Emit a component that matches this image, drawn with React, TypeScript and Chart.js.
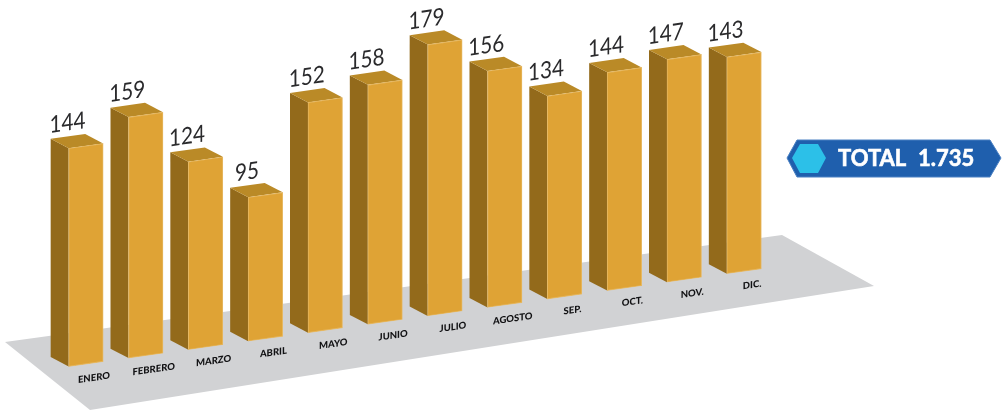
import React, { useEffect, useRef } from "react";
import { Chart, registerables } from "chart.js";

Chart.register(...registerables);

const months = ["ENERO", "FEBRERO", "MARZO", "ABRIL", "MAYO", "JUNIO", "JULIO", "AGOSTO", "SEP.", "OCT.", "NOV.", "DIC."];
const values = [144, 159, 124, 95, 152, 158, 179, 156, 134, 144, 147, 143];
const totalLabel = "TOTAL";
const totalValue = "1.735";

const FRONT = "#dfa335";
const SIDE = "#936a1b";
const TOP = "#ba8a27";
const EDGE = "#e6b862";
const SHEAR = 0.141;
const SHEAR_X0 = 69;
const DEPTH_X = -18;
const DEPTH_Y = -12;

function poly(ctx: CanvasRenderingContext2D, pts: number[][], fill: string, stroke?: string, lw = 1) {
  ctx.beginPath();
  pts.forEach((p, i) => (i ? ctx.lineTo(p[0], p[1]) : ctx.moveTo(p[0], p[1])));
  ctx.closePath();
  ctx.fillStyle = fill;
  ctx.fill();
  if (stroke) {
    ctx.strokeStyle = stroke;
    ctx.lineWidth = lw;
    ctx.stroke();
  }
}

const scene = {
  id: "scene",
  beforeDraw(chart: any) {
    const ctx = chart.ctx;
    poly(ctx, [[5, 342], [782, 235], [874, 286], [90, 410]], "#d1d2d4");
    ctx.beginPath();
    ctx.save();
    ctx.transform(1, -SHEAR, 0, 1, 0, SHEAR * SHEAR_X0);
  },
  beforeDatasetDraw(chart: any) {
    const ctx = chart.ctx;
    for (const el of chart.getDatasetMeta(0).data) {
      const l = el.x - el.width / 2;
      const r = el.x + el.width / 2;
      poly(ctx, [[l, el.y], [l + DEPTH_X, el.y + DEPTH_Y], [l + DEPTH_X, el.base + DEPTH_Y], [l, el.base]], SIDE);
      poly(ctx, [[l, el.y], [l + DEPTH_X, el.y + DEPTH_Y], [r + DEPTH_X, el.y + DEPTH_Y], [r, el.y]], TOP);
    }
  },
  afterDatasetDraw(chart: any) {
    const ctx = chart.ctx;
    ctx.font = "23.5px Lato";
    ctx.fillStyle = "#2a2a2c";
    ctx.textAlign = "center";
    ctx.textBaseline = "middle";
    chart.getDatasetMeta(0).data.forEach((el: any, i: number) => {
      ctx.save();
      ctx.translate(el.x - 18.5, el.y - 25.5);
      ctx.scale(0.88, 1);
      ctx.fillText(String(values[i]), 0, 0);
      ctx.restore();
    });
  },
  afterDraw(chart: any) {
    const ctx = chart.ctx;
    ctx.restore();
    poly(ctx, [[787, 158], [797, 140], [990, 140], [1001, 158], [990, 177], [797, 177]], "#1f5fad", "#4a80c2", 1);
    poly(ctx, [[792, 158], [800, 144], [818, 144], [826, 158], [818, 173], [800, 173]], "#2cc0e8");
    ctx.save();
    ctx.font = "bold 22px Lato";
    ctx.fillStyle = "#ffffff";
    ctx.strokeStyle = "#ffffff";
    ctx.lineWidth = 0.6;
    ctx.textAlign = "left";
    ctx.textBaseline = "middle";
    ctx.fillText(totalLabel, 838, 159);
    ctx.strokeText(totalLabel, 838, 159);
    ctx.fillText(totalValue, 918, 159);
    ctx.strokeText(totalValue, 918, 159);
    ctx.restore();
  },
};

export default function App() {
  const ref = useRef<HTMLCanvasElement>(null);
  useEffect(() => {
    const chart = new Chart(ref.current!, {
      type: "bar",
      data: {
        labels: months,
        datasets: [
          {
            data: values,
            backgroundColor: FRONT,
            borderColor: EDGE,
            borderWidth: 1,
            borderSkipped: false,
            barThickness: 34.5,
            clip: false,
          } as any,
        ],
      },
      options: {
        responsive: false,
        animation: false,
        layout: { padding: { left: 56, right: 231, top: 2.7, bottom: 0 } },
        plugins: { legend: { display: false }, tooltip: { enabled: false } },
        scales: {
          x: {
            grid: { display: false },
            border: { display: false },
            afterFit: (s: any) => {
              s.height = 43.5;
            },
            ticks: {
              autoSkip: false,
              maxRotation: 0,
              minRotation: 0,
              labelOffset: 8,
              padding: 1,
              font: { family: "Lato", weight: 900, size: 9.5 },
              color: "#111113",
            },
          },
          y: { display: false, min: 0, max: 240 },
        },
      },
      plugins: [scene],
    });
    return () => chart.destroy();
  }, []);
  return (
    <canvas
      ref={ref}
      width={1005}
      height={410}
      style={{ position: "absolute", left: 0, top: 0, display: "block" }}
    />
  );
}
